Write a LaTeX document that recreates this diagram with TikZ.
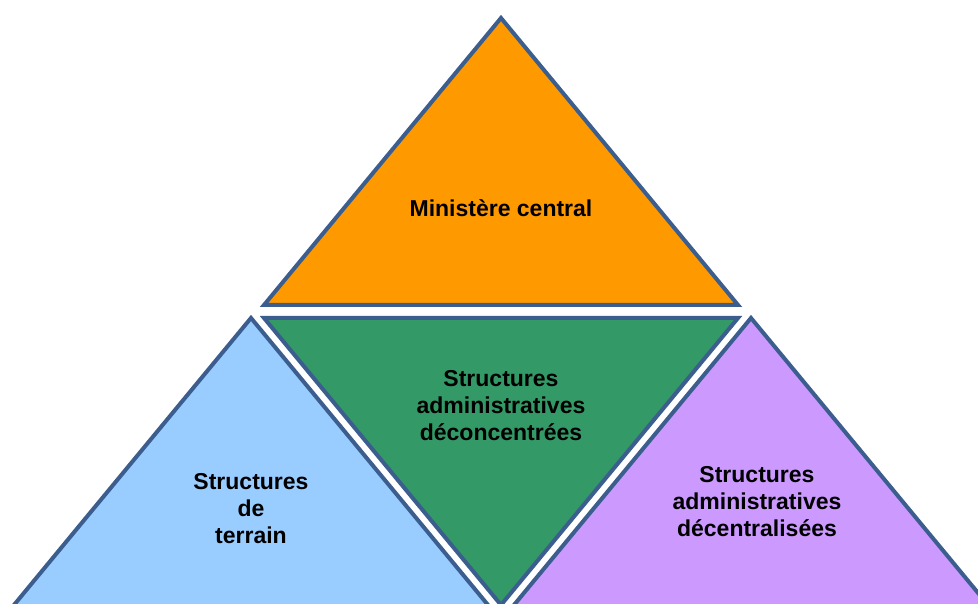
\documentclass[tikz,border=0pt]{standalone}
\usepackage{fontspec}
\setmainfont{Liberation Sans}
\begin{document}
\begin{tikzpicture}[x=1pt,y=-1pt,
  tri/.style={draw={rgb,255:red,59;green,94;blue,143},line width=4pt,line join=miter},
  lbl/.style={font=\fontsize{23}{27}\selectfont\bfseries,align=center,text=black,inner sep=0pt}]
\definecolor{orangef}{RGB}{255,153,0}
\definecolor{greenf}{RGB}{51,153,102}
\definecolor{bluef}{RGB}{153,204,255}
\definecolor{purplef}{RGB}{204,153,255}
\useasboundingbox (0,0) rectangle (978,604);
\clip (0,0) rectangle (978,604);
% top orange triangle
\coordinate (oA) at (501,18);
\coordinate (oL) at (264,305);
\coordinate (oR) at (738,305);
\draw[tri,fill=orangef] (oA) -- (oL) -- (oR) -- cycle;
% green inverted triangle
\coordinate (gL) at (264,318);
\coordinate (gR) at (738,318);
\coordinate (gB) at (501,605);
\draw[tri,fill=greenf] (gL) -- (gR) -- (gB) -- cycle;
% left blue triangle
\coordinate (bA) at (251,318);
\coordinate (bL) at (11.5,608);
\coordinate (bR) at (490.5,608);
\draw[tri,fill=bluef] (bA) -- (bL) -- (bR) -- cycle;
% right purple triangle
\coordinate (pA) at (751,318);
\coordinate (pL) at (511.5,608);
\coordinate (pR) at (990.5,608);
\draw[tri,fill=purplef] (pA) -- (pL) -- (pR) -- cycle;
% labels
\node[lbl] (tMin) at (501,208) {Ministère central};
\node[lbl] (tDec) at (501,406) {Structures\\administratives\\déconcentrées};
\node[lbl] (tTer) at (251,509) {Structures\\de\\terrain};
\node[lbl] (tCen) at (757,502) {Structures\\administratives\\décentralisées};
\end{tikzpicture}
\end{document}
